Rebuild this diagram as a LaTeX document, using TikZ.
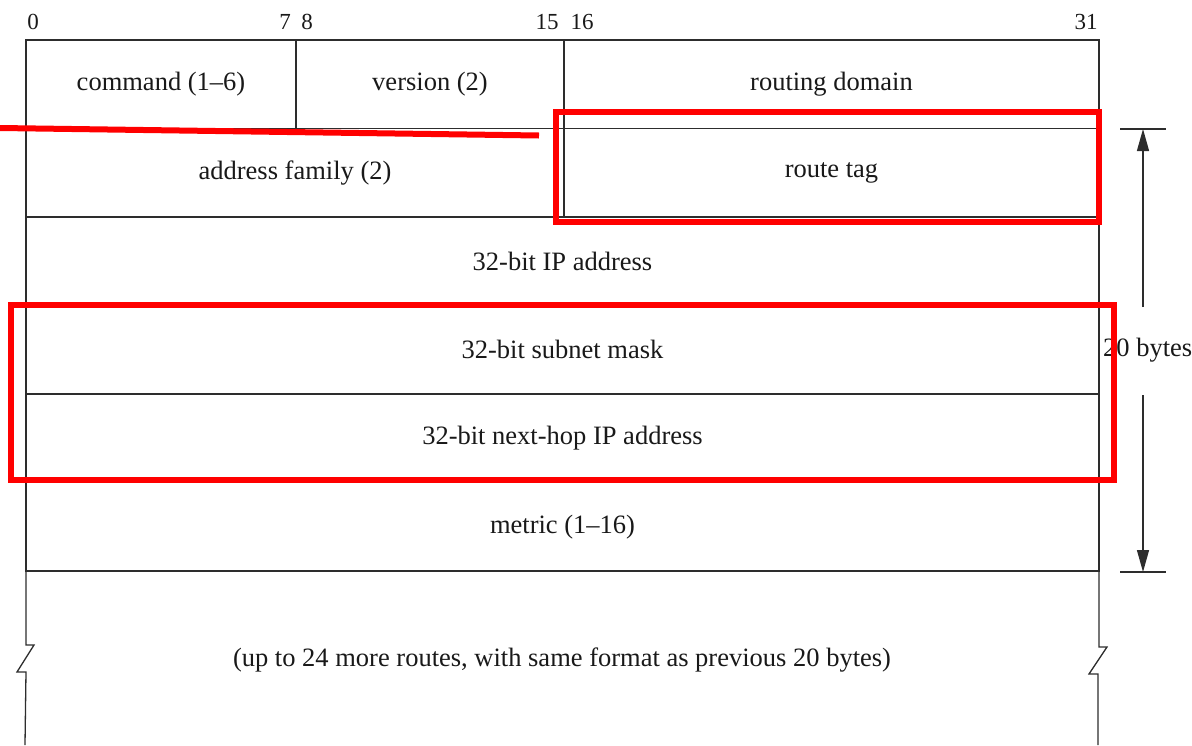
\documentclass[tikz,border=0pt]{standalone}
\usepackage{fontspec}
\setmainfont{Liberation Serif}
\usetikzlibrary{arrows.meta}
\definecolor{linec}{RGB}{45,45,45}
\definecolor{hlred}{RGB}{255,0,0}
\begin{document}
\begin{tikzpicture}[x=1pt,y=-1pt,
  cell/.style={draw=linec, line width=1.3pt, inner sep=0pt, outer sep=0pt,
    anchor=north west, minimum height=88.5pt, text=black!90,
    font=\fontsize{26.5}{31}\selectfont},
  lbl/.style={inner sep=0pt, text=black!90, font=\fontsize{26.5}{31}\selectfont},
  bit/.style={inner sep=0pt, text=black!90, font=\fontsize{23}{27}\selectfont},
  tline/.style={draw=linec, line width=1.3pt},
  arr/.style={draw=linec, line width=1.3pt, -{Triangle[length=22pt,width=12pt]}},
  hl/.style={draw=hlred, line width=6pt}]
\useasboundingbox (0,0) rectangle (1192,745);
% bit numbers
\node[bit] (b0) at (33,22) {0};
\node[bit] (b7) at (285,22) {7};
\node[bit] (b8) at (307,22) {8};
\node[bit] (b15) at (547,22) {15};
\node[bit] (b16) at (582,22) {16};
\node[bit] (b31) at (1086,22) {31};
% row 1
\node[cell, minimum width=270pt] (cmd) at (26,40) {command (1--6)};
\node[cell, minimum width=268pt] (ver) at (296,40) {version (2)};
\node[cell, minimum width=535pt] (rd) at (564,40) {routing domain};
% row 2
\node[cell, minimum width=538pt] (af) at (26,128.5) {address family (2)};
\node[cell, minimum width=535pt] (rt) at (564,128.5) {route tag};
% rows 3-6
\node[cell, minimum width=1073pt] (ip) at (26,217) {32-bit IP address};
\node[cell, minimum width=1073pt] (mask) at (26,305.5) {32-bit subnet mask};
\node[cell, minimum width=1073pt] (nh) at (26,394) {32-bit next-hop IP address};
\node[cell, minimum width=1073pt] (met) at (26,482.5) {metric (1--16)};
% open bottom section with breaks
\draw[tline] (met.south west) -- ++(0,74) -- ++(8,0) -- ++(-17,27) -- ++(9,0) -- (25,745);
\draw[tline] (met.south east) -- ++(0,76) -- ++(8,0) -- ++(-18,27) -- ++(9,0) -- (1098,745);
\node[lbl] (more) at (562,660)
  {(up to 24 more routes, with same format as previous 20 bytes)};
% 20 bytes dimension
\coordinate (ttop) at (1143,129);
\coordinate (tbot) at (1143,572);
\coordinate (tl1) at (1120,129);
\coordinate (tr1) at (1166,129);
\coordinate (tl2) at (1120,572);
\coordinate (tr2) at (1166,572);
\coordinate (g1) at (1143,307);
\coordinate (g2) at (1143,395);
\draw[tline] (tl1) -- (tr1);
\draw[tline] (tl2) -- (tr2);
\node[lbl, anchor=west] (bytes) at (1103,350) {20 bytes};
\draw[arr] (g1) -- (ttop);
\draw[arr] (g2) -- (tbot);
% red highlights
\coordinate (r0) at (0,128);
\coordinate (r1) at (539,135.5);
\draw[hl] (r0) -- (r1);
\draw[hl] (555.5,112) rectangle (1098.5,222);
\draw[hl] (11,304.5) rectangle (1114,480);
\end{tikzpicture}
\end{document}
